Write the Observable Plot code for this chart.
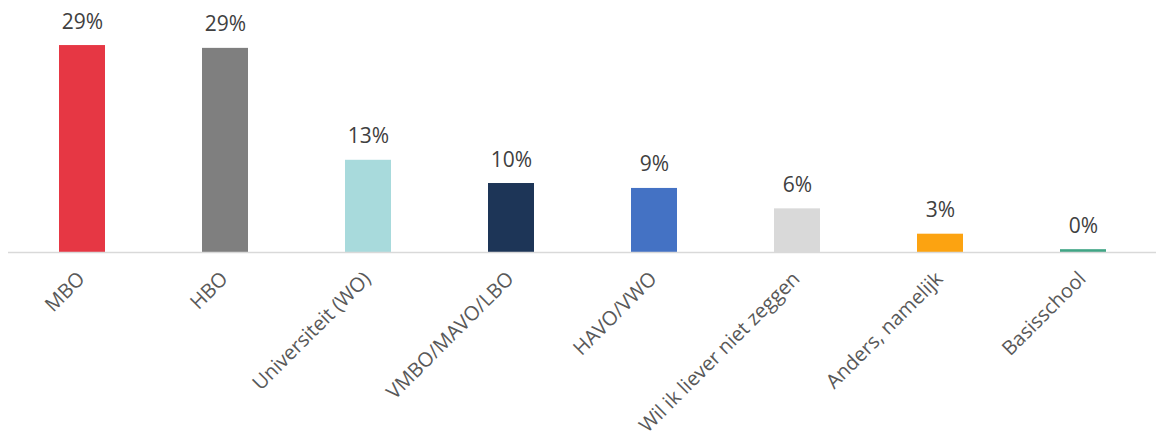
<!DOCTYPE html>
<html><head><meta charset="utf-8">
<script src="https://cdn.jsdelivr.net/npm/d3@7"></script>
<script src="https://cdn.jsdelivr.net/npm/@observablehq/plot@0.6"></script>
<style>body{margin:0;background:#fff;overflow:hidden;}</style>
</head><body><div id="chart"></div>
<script>
const categories = ["MBO", "HBO", "Universiteit (WO)", "VMBO/MAVO/LBO", "HAVO/VWO", "Wil ik liever niet zeggen", "Anders, namelijk", "Basisschool"];
const values = [29.4, 29.0, 13.1, 9.8, 9.1, 6.2, 2.6, 0.4];
const valueLabels = ["29%", "29%", "13%", "10%", "9%", "6%", "3%", "0%"];
const colors = ["#e63744", "#7f7f7f", "#a8dadc", "#1d3557", "#4472c4", "#d9d9d9", "#fca311", "#40a585"];

const data = categories.map((c, i) => ({category: c, value: values[i], label: valueLabels[i], color: colors[i]}));

const chart = Plot.plot({
  width: 1156,
  height: 448,
  marginTop: 0,
  marginLeft: 8,
  marginRight: 0,
  marginBottom: 196,
  style: {fontFamily: "'Open Sans', sans-serif", background: "#fff"},
  x: {domain: categories, paddingInner: 0.68, paddingOuter: 0.34, label: null},
  y: {domain: [0, 35.8], axis: null},
  color: {type: "identity"},
  marks: [
    Plot.barY(data, {x: "category", y: "value", fill: "color"}),
    Plot.ruleY([0], {stroke: "#d9d9d9", strokeWidth: 1.5}),
    Plot.text(data, {x: "category", y: "value", text: "label", lineAnchor: "bottom", dy: -17, fontSize: 21, fill: "#404040"}),
    Plot.axisX({tickRotate: -45, tickSize: 0, tickPadding: 23, dx: -1, fontSize: 20, color: "#595959", label: null})
  ]
});
document.getElementById("chart").appendChild(chart);
</script>
</body></html>
